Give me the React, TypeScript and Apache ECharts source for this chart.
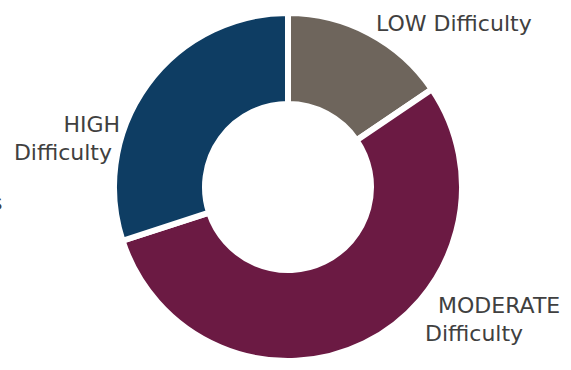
import React, { useEffect, useRef } from "react";
import * as echarts from "echarts";

const categories = ["LOW Difficulty", "MODERATE Difficulty", "HIGH Difficulty"];
const values = [15.5, 54.5, 30];
const colors = ["#6E655C", "#6B1A43", "#0E3D63"];

export default function App() {
  const ref = useRef<HTMLDivElement>(null);
  useEffect(() => {
    document.body.style.margin = "0";
    const chart = echarts.init(ref.current!, null, { renderer: "svg" });
    const labelPos = [
      { x: 376, y: 23, align: "left" },
      { x: 425, y: 319, align: "left" },
      { x: 112, y: 138, align: "right" },
    ];
    const fs = 22;
    const lh = 28;
    const base = { color: "#404040", fontFamily: "DejaVu Sans", fontSize: fs, lineHeight: lh };
    chart.setOption({
      animation: false,
      backgroundColor: "#ffffff",
      graphic: [
        {
          type: "text",
          left: -9,
          top: 191,
          style: { text: "s", font: "22px 'DejaVu Sans'", fill: "#404040" },
        },
      ],
      series: [
        {
          type: "pie",
          center: [288, 187],
          radius: [83, 174],
          startAngle: 90,
          clockwise: true,
          itemStyle: { borderColor: "#ffffff", borderWidth: 6 },
          labelLine: { show: false },
          label: {
            show: true,
            position: "outside",
            overflow: "none",
            ...base,
            formatter: (p: any) => {
              if (p.dataIndex === 0) return "{a|LOW Difficulty}";
              if (p.dataIndex === 1) return "{m|MODERATE}\n{a|Difficulty}";
              return "{h|HIGH}\n{a|Difficulty}";
            },
            rich: {
              a: { ...base },
              m: { ...base, padding: [0, 0, 0, 13] },
              h: { ...base, padding: [0, -8, 0, 0] },
            },
          },
          labelLayout: (params: any) => {
            const p = labelPos[params.dataIndex];
            return { x: p.x, y: p.y, align: p.align, verticalAlign: "middle" };
          },
          data: categories.map((c, i) => ({
            name: c,
            value: values[i],
            itemStyle: { color: colors[i] },
          })),
        },
      ],
    });
    return () => chart.dispose();
  }, []);
  return <div ref={ref} style={{ width: 571, height: 370 }} />;
}
